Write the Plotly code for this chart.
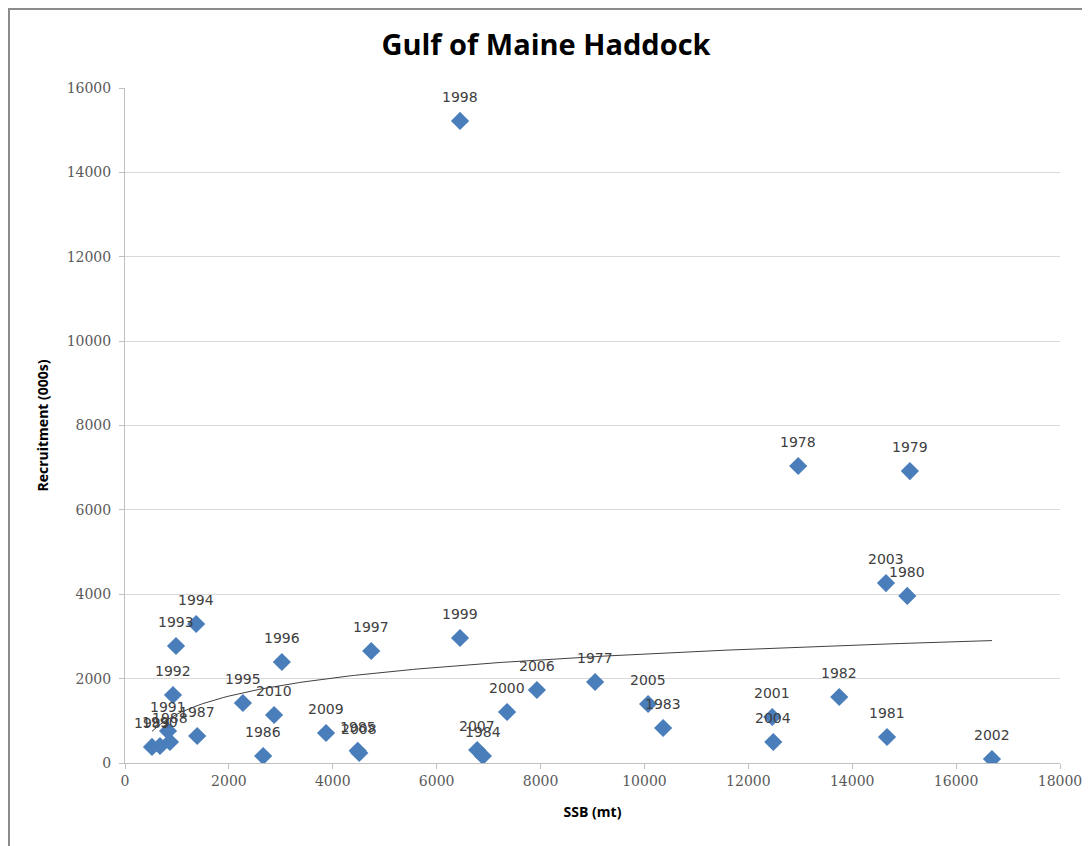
import numpy as np
import plotly.graph_objects as go

years = [1977, 1978, 1979, 1980, 1981, 1982, 1983, 1984, 1985, 1986, 1987,
         1988, 1989, 1990, 1991, 1992, 1993, 1994, 1995, 1996, 1997, 1998,
         1999, 2000, 2001, 2002, 2003, 2004, 2005, 2006, 2007, 2008, 2009, 2010]
ssb = [9050, 12960, 15110, 15060, 14670, 13750, 10360, 6890, 4480, 2660, 1390,
       866, 520, 674, 828, 924, 982, 1370, 2270, 3020, 4740, 6450,
       6450, 7355, 12460, 16690, 14650, 12480, 10070, 7930, 6780, 4510, 3870, 2870]
recruit = [1920, 7040, 6920, 3960, 616, 1564, 830, 166, 290, 166, 640,
           498, 380, 403, 758, 1612, 2773, 3295, 1422, 2394, 2655, 15220,
           2963, 1209, 1090, 95, 4266, 498, 1398, 1730, 308, 240, 711, 1138]

x_ticks = [0, 2000, 4000, 6000, 8000, 10000, 12000, 14000, 16000, 18000]
y_ticks = [0, 2000, 4000, 6000, 8000, 10000, 12000, 14000, 16000]

# logarithmic trendline fitted to the data
xs = np.array(ssb, dtype=float)
ys = np.array(recruit, dtype=float)
a, b = np.polyfit(np.log(xs), ys, 1)
tx = np.linspace(xs.min(), xs.max(), 200)
ty = a * np.log(tx) + b

fig = go.Figure()
fig.add_trace(go.Scatter(
    x=tx, y=ty, mode="lines",
    line=dict(color="#404040", width=1),
    hoverinfo="skip", showlegend=False))
fig.add_trace(go.Scatter(
    x=ssb, y=recruit, mode="markers",
    marker=dict(symbol="diamond", size=14, color="#4A7EBB"),
    showlegend=False))

annotations = []
for yr, xv, yv in zip(years, ssb, recruit):
    annotations.append(dict(
        x=xv, y=yv, xref="x", yref="y", text=str(yr), showarrow=False,
        xanchor="center", yanchor="middle", yshift=24,
        font=dict(family="DejaVu Sans", size=14, color="#404040")))

fig.update_layout(
    width=1090, height=846,
    margin=dict(l=117, r=38, t=80, b=91),
    paper_bgcolor="white", plot_bgcolor="white",
    title=dict(text="<b>Gulf of Maine Haddock</b>", x=538 / 1090,
               xanchor="center", y=1 - 37 / 846, yanchor="middle",
               font=dict(family="Open Sans", size=29, color="black")),
    xaxis=dict(range=[0, 18000], tickvals=x_ticks,
               ticktext=[str(v) for v in x_ticks], showgrid=False,
               showline=True, linecolor="#BFBFBF", linewidth=1,
               ticks="outside", ticklen=5, tickcolor="#BFBFBF",
               tickfont=dict(family="DejaVu Serif", size=14, color="#595959"),
               zeroline=False,
               title=dict(text="<b>SSB (mt)</b>", standoff=19,
                          font=dict(family="Open Sans", size=14, color="black"))),
    yaxis=dict(range=[0, 16000], tickvals=y_ticks,
               ticktext=[str(v) for v in y_ticks], showgrid=True,
               gridcolor="#D9D9D9", gridwidth=1,
               showline=True, linecolor="#BFBFBF", linewidth=1,
               ticks="outside", ticklen=5, tickcolor="#BFBFBF",
               ticklabelstandoff=5,
               tickfont=dict(family="DejaVu Serif", size=14, color="#595959"),
               zeroline=False,
               title=dict(text="<b>Recruitment (000s)</b>", standoff=14,
                          font=dict(family="Open Sans", size=14, color="black"))),
    annotations=annotations,
    shapes=[dict(type="rect", xref="paper", yref="paper",
                 x0=-116 / 935, x1=1.2, y0=-0.3, y1=1 + 79 / 675,
                 line=dict(color="#8C8C8C", width=2), fillcolor="rgba(0,0,0,0)",
                 layer="below")],
)

fig.write_html("out.html")
